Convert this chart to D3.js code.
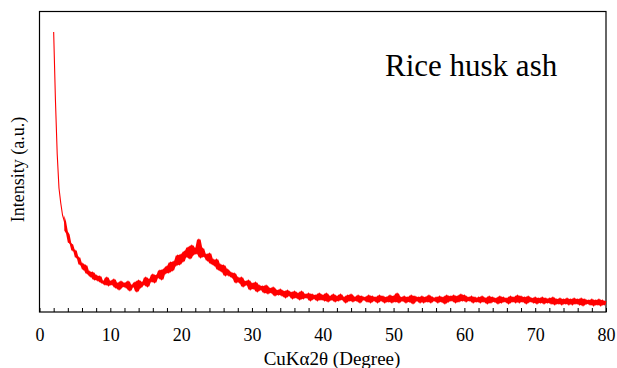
<!DOCTYPE html>
<html>
<head>
<meta charset="utf-8">
<script src="https://cdn.jsdelivr.net/npm/d3@7"></script>
<style>
  body { margin: 0; background: #fff; }
  svg { display: block; }
</style>
</head>
<body>
<svg id="chart" width="617" height="368"></svg>
<script>
// XRD pattern, 2theta from 2 to 80 deg in 0.25 deg steps (intensity in a.u.)
const startAngle = 2;
const angleStep = 0.25;
const intensity = [
  280, 212, 158, 124, 109, 97, 91, 81,
  78, 69, 68, 61, 62, 54, 55, 47,
  49, 42, 47, 38, 41, 35, 40, 32,
  37, 31, 36, 29, 31, 27, 35, 26,
  31, 27, 33, 24, 29, 22, 31, 25,
  29, 24, 31, 21, 27, 25, 30, 20,
  32, 24, 30, 27, 35, 25, 33, 30,
  38, 29, 37, 34, 42, 32, 43, 38,
  46, 39, 50, 41, 51, 46, 57, 47,
  58, 50, 61, 55, 65, 53, 67, 57,
  64, 58, 73, 54, 64, 55, 58, 51,
  59, 48, 53, 46, 53, 42, 48, 40,
  47, 36, 43, 36, 40, 34, 39, 29,
  35, 29, 35, 25, 31, 27, 32, 22,
  29, 23, 30, 20, 27, 22, 26, 19,
  27, 18, 24, 19, 25, 16, 22, 17,
  23, 16, 21, 14, 22, 16, 20, 13,
  21, 14, 19, 12, 21, 13, 18, 14,
  19, 11, 18, 13, 17, 11, 19, 12,
  17, 11, 19, 10, 16, 12, 18, 10,
  16, 11, 18, 12, 15, 9, 17, 11,
  18, 10, 15, 11, 17, 9, 16, 12,
  15, 10, 17, 9, 16, 11, 15, 9,
  17, 11, 16, 9, 15, 10, 17, 9,
  16, 10, 19, 9, 15, 11, 16, 9,
  15, 10, 17, 8, 16, 11, 15, 9,
  16, 9, 15, 10, 17, 9, 15, 11,
  15, 9, 16, 10, 15, 8, 17, 10,
  16, 11, 17, 9, 16, 10, 18, 11,
  17, 10, 15, 11, 16, 9, 15, 10,
  15, 9, 16, 10, 14, 8, 16, 9,
  15, 10, 14, 8, 16, 9, 15, 10,
  14, 8, 16, 10, 15, 9, 17, 9,
  16, 10, 15, 8, 16, 10, 14, 9,
  15, 8, 14, 9, 15, 8, 14, 9,
  14, 8, 15, 7, 13, 8, 14, 7,
  13, 8, 14, 7, 13, 7, 14, 8,
  13, 7, 14, 6, 13, 8, 12, 7,
  13, 6, 12, 7, 13, 6, 12, 7,
  11
];
const minorTicks = d3.range(0, 81, 2);
const majorTicks = [0, 10, 20, 30, 40, 50, 60, 70, 80];
const xTitle = "CuKα2θ (Degree)";
const yTitle = "Intensity (a.u.)";
const sampleName = "Rice husk ash";

const data = intensity.map((v, i) => ({ x: startAngle + i * angleStep, y: v }));
// local spread of neighbouring readings, used to fill the noise band
const band = data.map((d, i) => {
  const near = intensity.slice(Math.max(0, i - 1), i + 2);
  return { x: d.x, lo: d3.min(near), hi: d3.max(near) };
});

const plotLeft = 39.5, plotRight = 606, plotTop = 11.5, plotBottom = 312;
const serif = "'Liberation Serif', 'Times New Roman', Times, serif";

const svg = d3.select("#chart");

const xScale = d3.scaleLinear().domain([0, 80]).range([plotLeft, plotRight]);
const yScale = d3.scaleLinear().domain([0, 300]).range([plotBottom, plotTop + 0.5]);

// frame
svg.append("rect")
  .attr("x", plotLeft).attr("y", plotTop)
  .attr("width", plotRight - plotLeft).attr("height", plotBottom - plotTop)
  .attr("fill", "none")
  .attr("stroke", "#000")
  .attr("stroke-width", 1.2);

// small inward ticks
const tickAxis = d3.axisBottom(xScale)
  .tickValues(minorTicks)
  .tickSize(-4)
  .tickFormat("");
svg.append("g")
  .attr("transform", `translate(0,${plotBottom})`)
  .call(tickAxis)
  .call(g => g.select(".domain").remove())
  .call(g => g.selectAll("line").attr("stroke", "#000").attr("stroke-width", 1));

// labels
const labelAxis = d3.axisBottom(xScale)
  .tickValues(majorTicks)
  .tickSize(0)
  .tickPadding(16)
  .tickFormat(d3.format("d"));
svg.append("g")
  .attr("transform", `translate(0,${plotBottom})`)
  .call(labelAxis)
  .call(g => g.attr("font-family", serif).attr("font-size", 18))
  .call(g => g.select(".domain").remove())
  .call(g => g.selectAll("text").attr("fill", "#000"));

// pattern: filled noise band + trace
const area = d3.area()
  .x(d => xScale(d.x))
  .y0(d => yScale(d.lo + 0.5))
  .y1(d => yScale(d.hi - 0.5));

svg.append("path")
  .datum(band.slice(6))
  .attr("fill", "#ff0000")
  .attr("d", area);

const line = d3.line()
  .x(d => xScale(d.x))
  .y(d => yScale(d.y));

svg.append("path")
  .datum(data)
  .attr("fill", "none")
  .attr("stroke", "#ff0000")
  .attr("stroke-width", 1.1)
  .attr("stroke-linejoin", "round")
  .attr("d", line);

// titles
svg.append("text")
  .attr("x", 332).attr("y", 365)
  .attr("text-anchor", "middle")
  .attr("font-family", serif)
  .attr("font-size", 19)
  .attr("fill", "#000")
  .text(xTitle);

svg.append("text")
  .attr("transform", "translate(24,169.5) rotate(-90)")
  .attr("text-anchor", "middle")
  .attr("font-family", serif)
  .attr("font-size", 18)
  .attr("fill", "#000")
  .text(yTitle);

svg.append("text")
  .attr("x", 385).attr("y", 76)
  .attr("font-family", serif)
  .attr("font-size", 31)
  .attr("fill", "#000")
  .text(sampleName);
</script>
</body>
</html>
